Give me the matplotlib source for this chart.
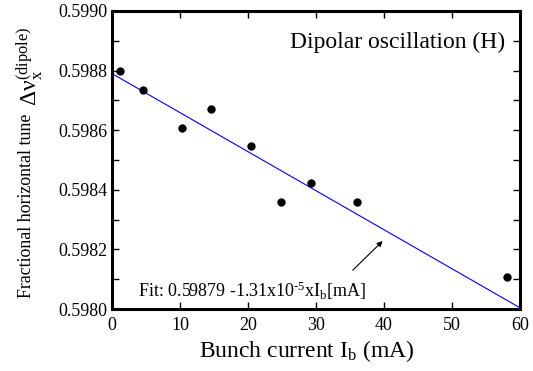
import matplotlib
matplotlib.use('Agg')
import numpy as np
import matplotlib.pyplot as plt
from matplotlib.ticker import MultipleLocator

# bunch current (mA) and measured fractional tune
current = [1.2, 4.5, 10.3, 14.6, 20.5, 24.9, 29.3, 36.1, 58.1]
tune = [0.59880, 0.598734, 0.598608, 0.598671, 0.598546, 0.598358, 0.598422, 0.598358, 0.598108]

# linear fit result
fit_intercept = 0.59879
fit_slope = -1.31e-5
fit_range = [0, 60]

plt.rcParams['font.family'] = ['Liberation Serif', 'DejaVu Serif']
plt.rcParams['mathtext.fontset'] = 'custom'
plt.rcParams['mathtext.rm'] = 'Liberation Serif'
plt.rcParams['mathtext.it'] = 'Liberation Serif:italic'

fig = plt.figure(figsize=(5.33, 3.71), dpi=100)
ax = fig.add_axes([0.210, 0.1671, 0.7656, 0.8033])

xf = np.array(fit_range, dtype=float)
ax.plot(xf, fit_intercept + fit_slope * xf, color='#0000ff', lw=0.8, zorder=2)
ax.plot(current, tune, 'o', color='black', markersize=5, zorder=3)

ax.set_xlim(0, 60)
ax.set_ylim(0.5980, 0.5990)
ax.xaxis.set_major_locator(MultipleLocator(10))
ax.yaxis.set_major_locator(MultipleLocator(0.0002))
ax.yaxis.set_minor_locator(MultipleLocator(0.0001))
ax.yaxis.set_major_formatter(matplotlib.ticker.FormatStrFormatter('%.4f'))
ax.tick_params(which='both', direction='in', top=True, right=True,
               width=1, labelsize=13)
ax.tick_params(which='both', length=5)
ax.tick_params(axis='x', pad=6)
for sp in ax.spines.values():
    sp.set_linewidth(2.2)

ax.set_xlabel(r'Bunch current I$_\mathrm{b}$ (mA)', fontsize=17, labelpad=3)
ax.xaxis.label.set_x(0.478)

# y label in two parts (different sizes)
fig.text(27 / 533, 1 - 298 / 371, 'Fractional horizontal tune', rotation=90,
         ha='center', va='bottom', fontsize=12.9)
fig.text(30 / 533, 1 - 106 / 371, r'$\mathrm{\Delta\nu_x^{(dipole)}}$', rotation=90,
         ha='center', va='bottom', fontsize=17)

ax.text(57.8, 0.598893, 'Dipolar oscillation (H)', ha='right', va='center', fontsize=17)
ax.text(3.8, 0.59806, r'Fit: 0.59879 -1.31x10$^{\text{-5}}$xI$_\mathrm{b}$[mA]',
        ha='left', va='center', fontsize=13)
ax.annotate('', xy=(39.8, 0.598228), xytext=(35.4, 0.59813),
            arrowprops=dict(arrowstyle='-|>', color='black', lw=0.8,
                            mutation_scale=8, shrinkA=0, shrinkB=0))

fig.savefig('out.png', dpi=100)
